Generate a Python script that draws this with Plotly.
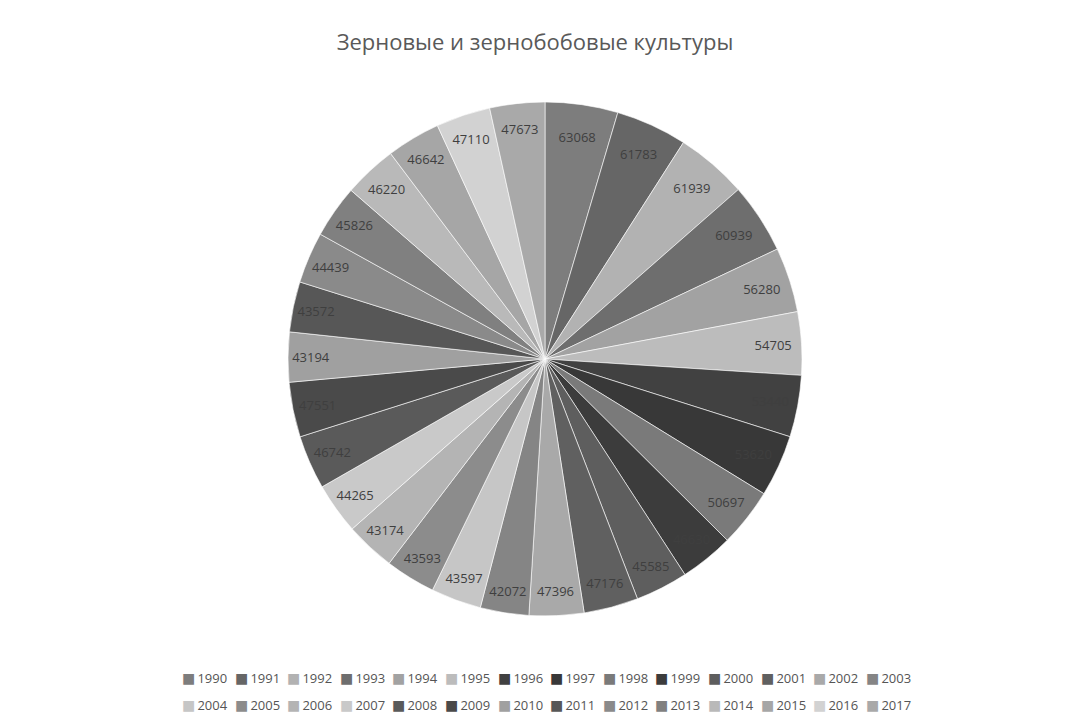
import plotly.graph_objects as go

years = [str(y) for y in range(1990, 2018)]
values = [63068, 61783, 61939, 60939, 56280, 54705, 53440, 53620, 50697, 46630,
          45585, 47176, 47396, 42072, 43597, 43593, 43174, 44265, 46742, 47551,
          43194, 43572, 44439, 45826, 46220, 46642, 47110, 47673]
colors = ["#7d7d7d", "#666666", "#b2b2b2", "#6e6e6e", "#a2a2a2", "#bcbcbc", "#414141", "#383838",
          "#7a7a7a", "#3c3c3c", "#5e5e5e", "#606060", "#a9a9a9", "#858585", "#c6c6c6", "#8c8c8c",
          "#b4b4b4", "#c9c9c9", "#5a5a5a", "#4a4a4a", "#a0a0a0", "#575757", "#8a8a8a", "#808080",
          "#b9b9b9", "#a6a6a6", "#d2d2d2", "#a9a9a9"]
title_text = "Зерновые и зернобобовые культуры"

W, H = 1066, 722
cx, cy, r = 545, 359, 257

fig = go.Figure()
fig.add_trace(go.Pie(
    labels=years, values=values, sort=False, direction="clockwise", rotation=0,
    marker=dict(colors=colors, line=dict(color="white", width=0.6)),
    texttemplate="%{value:.0f}", textposition="inside", insidetextorientation="horizontal",
    textfont=dict(family="Open Sans", size=13, color="#3f3f3f"),
    domain=dict(x=[(cx - r) / W, (cx + r) / W], y=[(H - cy - r) / H, (H - cy + r) / H]),
    showlegend=False, hoverinfo="label+value",
))

# legend rows built from data
per_row = 14
x0, pitch = 180, 52.6
row_y = [678, 705]
for i, (yr, col) in enumerate(zip(years, colors)):
    row, k = divmod(i, per_row)
    fig.add_annotation(
        x=(x0 + k * pitch) / W, y=1 - row_y[row] / H, xref="paper", yref="paper",
        xanchor="left", yanchor="middle", showarrow=False,
        text=f"<span style='color:{col};font-family:DejaVu Sans;font-size:14px'>■</span>&#8201;{yr}",
        font=dict(family="Open Sans", size=13, color="#555555"),
    )

fig.update_layout(
    width=W, height=H, margin=dict(l=0, r=0, t=0, b=0),
    paper_bgcolor="white", plot_bgcolor="white",
    title=dict(text=title_text, x=535 / W, xanchor="center", y=1 - 42 / H, yanchor="middle",
               yref="container", font=dict(family="Open Sans", size=22, color="#595959")),
    uniformtext=dict(minsize=13, mode="show"),
)
fig.write_html("out.html")
